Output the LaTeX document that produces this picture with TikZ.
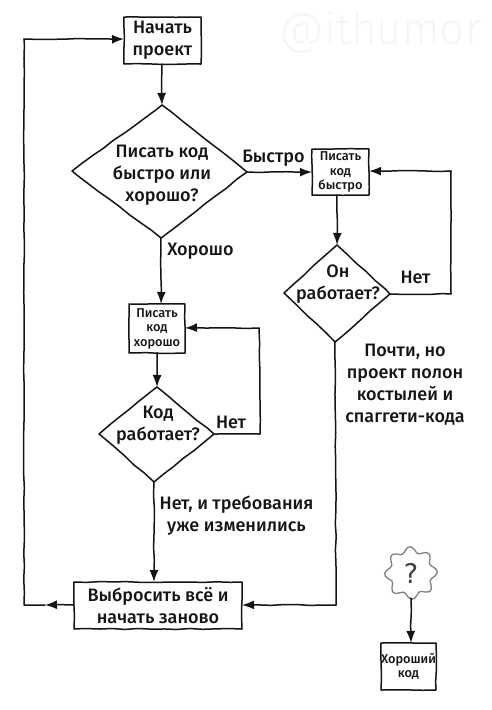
\documentclass[tikz,border=0pt]{standalone}
\usepackage{fontspec}
\setmainfont{Fira Sans}[BoldFont={Fira Sans Medium}]
\newfontfamily\wmfont{Fira Sans Light}
\newfontfamily\qfont{DejaVu Sans}
\usetikzlibrary{arrows.meta,shapes.geometric,decorations.pathmorphing,calc}
\pgfmathsetseed{11}
\definecolor{ink}{gray}{0.08}
\tikzset{
  x=1pt,y=-1pt,
  rough/.style={decorate,decoration={random steps,segment length=13pt,amplitude=0.5pt}},
  every node/.style={inner sep=0pt,outer sep=0pt,align=center,text=ink},
  big/.style={font=\fontsize{18}{22}\selectfont\bfseries},
  small/.style={font=\fontsize{12.8}{14.5}\selectfont\bfseries},
  lbl/.style={big,anchor=center},
  edge/.style={draw=ink,line width=1.5pt,line join=round,line cap=round,rough},
  tip/.style={edge,-{Latex[length=12pt,width=9pt]}},
}
\begin{document}
\begin{tikzpicture}
\useasboundingbox (0,0) rectangle (491,710);
\fill[white] (0,0) rectangle (491,710);
% watermark
\node[font=\fontsize{44}{48}\wmfont,text=black!4] (wm) at (380.5,32) {@ithumor};
% rectangles
\node[big,rectangle,minimum width=77pt,minimum height=47pt] (start) at (162.5,40.5) {Начать\\проект};
\node[small,rectangle,minimum width=57pt,minimum height=46pt] (fast) at (340.5,172) {Писать\\код\\быстро};
\node[small,rectangle,minimum width=56pt,minimum height=49pt] (good) at (157,328.5) {Писать\\код\\хорошо};
\node[big,rectangle,minimum width=168pt,minimum height=47pt] (throw) at (158,605.5) {Выбросить всё и\\начать заново};
\node[small,rectangle,minimum width=55pt,minimum height=47pt] (result) at (408.5,666.5) {Хороший\\код};
\foreach \n in {start,fast,good,throw,result}{
  \draw[edge] (\n.north west) -- (\n.north east) -- (\n.south east) -- (\n.south west) -- cycle;
}
% diamonds (node holds the text; outline follows the hand-drawn corners)
\node[big,diamond,minimum width=175pt,minimum height=133pt,aspect=1.316] (q1) at (159.5,171.5) {};
\node[big] (q1t) at (162,175.5) {Писать код\\быстро или\\хорошо?};
\coordinate (q1n) at (162,105); \coordinate (q1e) at (247,172);
\coordinate (q1s) at (161,238); \coordinate (q1w) at (72,171);
\node[big,diamond,minimum width=106pt,minimum height=96pt,aspect=1.104] (qf) at (337,293.5) {};
\node[big] (qft) at (338,284) {Он\\работает?};
\coordinate (qfn) at (337,245); \coordinate (qfe) at (390,294);
\coordinate (qfs) at (335,342); \coordinate (qfw) at (284,293);
\node[big,diamond,minimum width=115pt,minimum height=95pt,aspect=1.21] (qg) at (156.5,434.5) {};
\node[big] (qgt) at (158,425.5) {Код\\работает?};
\coordinate (qgn) at (157,387); \coordinate (qge) at (214,434);
\coordinate (qgs) at (154,482); \coordinate (qgw) at (99,434);
\foreach \n in {q1,qf,qg}{
  \draw[edge] (\n n) -- (\n e) -- (\n s) -- (\n w) -- cycle;
}
% cloud
\node[circle,minimum size=44pt,font=\fontsize{27}{28}\qfont,text=black!75] (cloud) at (411,573) {?};
\begin{scope}[shift={(cloud.center)}]
\draw[black!50,line width=1.3pt] plot[smooth cycle,tension=0.7,samples=48,domain=0:352.5] (\x:{23.5+3*cos(8*\x+20)});
\end{scope}
\coordinate (cloudb) at (411,598);
% connectors
\coordinate (a1) at (24,605);
\coordinate (a2) at (24,39);
\coordinate (a0) at (45,605);
\coordinate (b1) at (451,294);
\coordinate (b2) at (451,171);
\coordinate (c1) at (260,434);
\coordinate (c2) at (259,328);
\coordinate (d1) at (336,605);
\draw[tip] (throw.west |- a0) -- (a0);
\draw[edge] (a0) -- (a1) -- (a2);
\draw[tip] (a2) -- (start.west |- a2);
\draw[tip] (start.south -| q1n) -- (q1n);
\draw[tip] (q1e) -- (fast.west |- q1e);
\draw[tip] (q1s) -- (good.north -| q1s);
\draw[tip] (fast.south -| qfn) -- (qfn);
\draw[edge] (qfe) -- (b1) -- (b2);
\draw[tip] (b2) -- (fast.east |- b2);
\draw[tip] (good.south) -- (qgn);
\draw[edge] (qge) -- (c1) -- (c2);
\draw[tip] (c2) -- (good.east |- c2);
\draw[tip] (qgs) -- (throw.north -| qgs);
\draw[edge] (qfs) -- (d1);
\draw[tip] (d1) -- (throw.east |- d1);
\draw[tip] (cloudb) -- (result.north -| cloudb);
% labels
\node[lbl] (l1) at (273.5,158.5) {Быстро};
\node[lbl] (l2) at (200.5,251.5) {Хорошо};
\node[lbl] (l3) at (415.5,277.5) {Нет};
\node[lbl] (l4) at (231,422.5) {Нет};
\node[lbl] (l5) at (405,385) {Почти, но\\проект полон\\костылей и\\спаггети-кода};
\node[lbl] (l6) at (236.5,516) {Нет, и требования\\уже изменились};
\end{tikzpicture}
\end{document}
